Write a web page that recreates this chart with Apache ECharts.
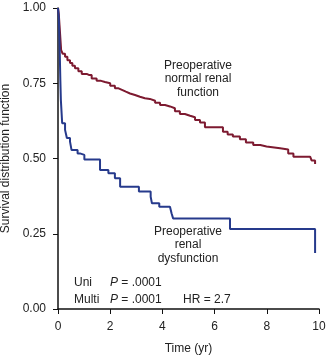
<!DOCTYPE html>
<html>
<head>
<meta charset="utf-8">
<script src="https://cdn.jsdelivr.net/npm/echarts@6/dist/echarts.min.js"></script>
<style>
html,body{margin:0;padding:0;background:#fff;}
#chart{width:326px;height:355px;}
</style>
</head>
<body>
<div id="chart"></div>
<script>
// Preoperative normal renal function (time in years, survival)
const normalTime = [0, 0.03, 0.06, 0.12, 0.18, 0.27, 0.36, 0.46, 0.55, 0.65, 0.78, 0.91, 1.10, 1.20, 1.29, 1.48, 1.65, 1.80, 2.00, 2.18, 2.32, 2.45, 2.60, 2.76, 2.95, 3.14, 3.33, 3.52, 3.72, 3.91, 4.10, 4.29, 4.48, 4.67, 4.86, 5.06, 5.25, 5.44, 5.63, 6.13, 6.32, 6.50, 6.70, 6.97, 7.20, 7.48, 7.75, 7.99, 8.51, 8.82, 9.02, 9.66, 9.72, 9.85];
const normalSurv = [1.00, 0.98, 0.94, 0.86, 0.848, 0.838, 0.826, 0.817, 0.808, 0.80, 0.79, 0.781, 0.777, 0.777, 0.766, 0.758, 0.754, 0.75, 0.742, 0.733, 0.728, 0.722, 0.716, 0.711, 0.705, 0.70, 0.698, 0.692, 0.685, 0.678, 0.673, 0.667, 0.657, 0.648, 0.642, 0.637, 0.628, 0.620, 0.604, 0.604, 0.589, 0.580, 0.573, 0.564, 0.553, 0.545, 0.540, 0.534, 0.530, 0.517, 0.506, 0.506, 0.493, 0.482];

// Preoperative renal dysfunction
const dysTime = [0, 0.03, 0.06, 0.09, 0.11, 0.16, 0.27, 0.34, 0.46, 0.52, 0.75, 0.84, 1.01, 1.61, 1.93, 2.18, 2.38, 3.10, 3.55, 3.60, 3.88, 4.29, 4.35, 4.41, 6.59, 9.85];
const dysSurv = [1.00, 0.97, 0.88, 0.76, 0.694, 0.617, 0.595, 0.568, 0.556, 0.528, 0.517, 0.512, 0.497, 0.462, 0.451, 0.434, 0.406, 0.39, 0.373, 0.351, 0.34, 0.334, 0.318, 0.301, 0.266, 0.186];

const xTicks = [0, 2, 4, 6, 8, 10];
const yTicks = [0, 0.25, 0.5, 0.75, 1.0];

const FONT = 'Liberation Sans, Arial, sans-serif';
const TXT = '#222';

const chart = echarts.init(document.getElementById('chart'), null, {renderer: 'canvas'});

const pair = (xs, ys) => xs.map((x, i) => [x, ys[i]]);

chart.setOption({
  animation: false,
  backgroundColor: '#fff',
  grid: {left: 58, top: 8, right: 7, bottom: 46, containLabel: false, outerBoundsMode: 'none'},
  xAxis: {
    type: 'value', min: xTicks[0], max: xTicks[xTicks.length - 1], interval: 2,
    name: 'Time (yr)', nameLocation: 'middle', nameGap: 34,
    nameTextStyle: {fontFamily: FONT, fontSize: 12, color: TXT},
    axisLine: {show: true, lineStyle: {color: '#111', width: 1.5}},
    axisTick: {show: true, length: 5, lineStyle: {color: '#111', width: 1}},
    axisLabel: {fontFamily: FONT, fontSize: 12, color: TXT, margin: 12},
    splitLine: {show: false}
  },
  yAxis: {
    type: 'value', min: yTicks[0], max: yTicks[yTicks.length - 1], interval: 0.25,
    name: 'Survival distribution function', nameLocation: 'middle', nameGap: 42,
    nameTextStyle: {fontFamily: FONT, fontSize: 12, color: TXT},
    axisLine: {show: true, lineStyle: {color: '#111', width: 1.5}},
    axisTick: {show: true, length: 5, lineStyle: {color: '#111', width: 1}},
    axisLabel: {fontFamily: FONT, fontSize: 12, color: TXT, margin: 12,
      formatter: v => v.toFixed(2)},
    splitLine: {show: false}
  },
  series: [
    {
      type: 'line', step: 'end', showSymbol: false,
      data: pair(normalTime, normalSurv),
      lineStyle: {color: '#7d1a30', width: 2},
      itemStyle: {color: '#7d1a30'}
    },
    {
      type: 'line', step: 'end', showSymbol: false,
      data: pair(dysTime, dysSurv),
      lineStyle: {color: '#263a8c', width: 2},
      itemStyle: {color: '#263a8c'}
    }
  ],
  graphic: [
    {type: 'text', x: 198, y: 79, style: {text: 'Preoperative\nnormal renal\nfunction', align: 'center', verticalAlign: 'middle', lineHeight: 13.5, font: '12px ' + FONT, fill: TXT}},
    {type: 'text', x: 188, y: 245, style: {text: 'Preoperative\nrenal\ndysfunction', align: 'center', verticalAlign: 'middle', lineHeight: 13.5, font: '12px ' + FONT, fill: TXT}},
    {type: 'text', x: 74, y: 283, style: {text: 'Uni', verticalAlign: 'middle', font: '12px ' + FONT, fill: TXT}},
    {type: 'text', x: 110, y: 283, style: {text: '{i|P} = .0001', verticalAlign: 'middle', font: '12px ' + FONT, fill: TXT,
      rich: {i: {fontStyle: 'italic', fontFamily: FONT, fontSize: 12, fill: TXT}}}},
    {type: 'text', x: 74, y: 300, style: {text: 'Multi', verticalAlign: 'middle', font: '12px ' + FONT, fill: TXT}},
    {type: 'text', x: 110, y: 300, style: {text: '{i|P} = .0001', verticalAlign: 'middle', font: '12px ' + FONT, fill: TXT,
      rich: {i: {fontStyle: 'italic', fontFamily: FONT, fontSize: 12, fill: TXT}}}},
    {type: 'text', x: 183, y: 300, style: {text: 'HR = 2.7', verticalAlign: 'middle', font: '12px ' + FONT, fill: TXT}}
  ]
});
</script>
</body>
</html>
